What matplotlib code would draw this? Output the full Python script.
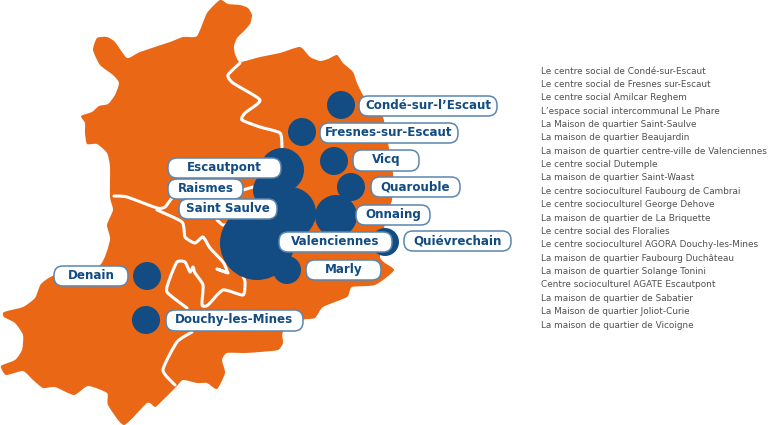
#!/usr/bin/env python

import matplotlib
matplotlib.use('Agg')
import matplotlib.pyplot as plt
from matplotlib.patches import Circle, FancyBboxPatch, PathPatch
from matplotlib.path import Path

ORANGE = '#ea6715'
BLUE = '#124c82'
EDGE = '#5a86b0'
GREY = '#505050'

# Territory outline, in picture pixels
outline_x = [220, 228, 240, 248, 252, 250, 243, 237, 234, 235, 240, 260, 280, 300, 310, 320, 328, 337,
             343, 353, 357, 363, 373, 383, 388, 393, 392, 387, 380, 394, 375, 352, 347, 323, 315, 302,
             283, 283, 278, 260, 245, 227, 222, 225, 217, 207, 197, 183, 176, 160, 155, 147, 124, 108,
             107, 88, 74, 55, 43, 33, 23, 6, 1, 15, 22, 23, 15, 4, 4, 23, 35, 41, 55, 99, 110, 107, 113,
             110, 110, 107, 97, 87, 85, 85, 81, 92, 99, 108, 115, 119, 113, 100, 93, 97, 107, 115, 127,
             140, 170, 183, 197, 207]
outline_y = [0, 4, 5, 8, 15, 24, 32, 38, 46, 54, 62, 57, 53, 47, 57, 61, 59, 55,
             63, 72, 83, 95, 105, 117, 143, 173, 200, 213, 257, 270, 285, 287, 297, 307, 318, 320,
             332, 343, 350, 352, 353, 353, 360, 373, 389, 383, 383, 380, 387, 403, 407, 403, 425, 405,
             393, 386, 395, 387, 388, 380, 371, 375, 366, 360, 350, 335, 323, 317, 312, 307, 298, 284,
             275, 266, 240, 225, 210, 197, 167, 153, 144, 144, 133, 123, 116, 112, 106, 104, 95, 83,
             75, 65, 50, 38, 37, 42, 58, 52, 42, 37, 36, 13]

# White commune borders
border_north_x = [240, 228, 233, 260, 245, 242, 260, 280, 282]
border_north_y = [63, 75, 83, 100, 113, 120, 127, 133, 147]
border_west_x = [114, 127, 157, 165, 172, 180]
border_west_y = [196, 197, 208, 207, 198, 192]
border_raismes_x = [243, 253]
border_raismes_y = [190, 187]
border_centre_x = [157, 182, 185, 195, 203, 210, 223, 227, 217, 228]
border_centre_y = [210, 222, 237, 243, 237, 248, 262, 272, 269, 273]
border_notch_x = [217, 223, 230]
border_notch_y = [220, 225, 224]
border_loop_x = [187, 167, 170, 177, 185, 190, 193, 195, 203, 202, 208, 223, 243, 245, 242]
border_loop_y = [308, 292, 278, 262, 262, 272, 267, 273, 285, 305, 305, 290, 295, 282, 273]
border_south_x = [192, 177, 163, 175]
border_south_y = [332, 342, 370, 385]

# Bubbles
bubble_x = [341, 302, 334, 351, 282, 272, 290, 336, 385, 287, 257, 147, 146]
bubble_y = [105, 132, 161, 187, 170, 190, 213, 216, 242, 270, 243, 276, 320]
bubble_r = [14, 14, 14, 14, 22, 19, 26, 21, 14, 14, 37, 14, 14]

# Town labels
towns = ['Condé-sur-l’Escaut', 'Fresnes-sur-Escaut', 'Vicq', 'Quarouble', 'Onnaing', 'Quiévrechain',
         'Valenciennes', 'Marly', 'Douchy-les-Mines', 'Denain', 'Escautpont', 'Raismes', 'Saint Saulve']
town_x0 = [359, 320, 353, 371, 356, 404, 279, 306, 166, 54, 168, 168, 179]
town_x1 = [497, 458, 419, 460, 430, 511, 392, 381, 303, 128, 281, 243, 277]
town_y0 = [96, 123, 150, 177, 205, 231, 232, 260, 310, 266, 158, 179, 199]
town_y1 = [116, 143, 171, 197, 225, 251, 252, 280, 331, 286, 178, 199, 219]

centres = [
    'Le centre social de Condé-sur-Escaut',
    'Le centre social de Fresnes sur-Escaut',
    'Le centre social Amilcar Reghem',
    'L’espace social intercommunal Le Phare',
    'La Maison de quartier Saint-Saulve',
    'La maison de quartier Beaujardin',
    'La maison de quartier centre-ville de Valenciennes',
    'Le centre social Dutemple',
    'La maison de quartier Saint-Waast',
    'Le centre socioculturel Faubourg de Cambrai',
    'Le centre socioculturel George Dehove',
    'La maison de quartier de La Briquette',
    'Le centre social des Floralies',
    'Le centre socioculturel AGORA Douchy-les-Mines',
    'La maison de quartier Faubourg Duchâteau',
    'La maison de quartier Solange Tonini',
    'Centre socioculturel AGATE Escautpont',
    'La maison de quartier de Sabatier',
    'La Maison de quartier Joliot-Curie',
    'La maison de quartier de Vicoigne',
]


def smooth_path(xs, ys, closed=False, tension=0.1):
    # Bezier curve through the points, so the borders do not look like polylines
    pts = list(zip(xs, ys))
    n = len(pts)
    verts = [pts[0]]
    codes = [Path.MOVETO]
    last = n if closed else n - 1
    for i in range(last):
        p0 = pts[(i - 1) % n] if closed or i > 0 else pts[i]
        p1 = pts[i]
        p2 = pts[(i + 1) % n]
        p3 = pts[(i + 2) % n] if closed or i + 2 < n else p2
        c1 = (p1[0] + (p2[0] - p0[0]) * tension, p1[1] + (p2[1] - p0[1]) * tension)
        c2 = (p2[0] - (p3[0] - p1[0]) * tension, p2[1] - (p3[1] - p1[1]) * tension)
        verts += [c1, c2, p2]
        codes += [Path.CURVE4] * 3
    return Path(verts, codes)


fig = plt.figure(figsize=(7.68, 4.25), dpi=100)
ax = fig.add_axes([0, 0, 1, 1])
ax.set_xlim(0, 768)
ax.set_ylim(425, 0)
ax.axis('off')

# Map
ax.add_patch(PathPatch(smooth_path(outline_x, outline_y, closed=True), facecolor=ORANGE,
                       edgecolor='none', zorder=1))

borders = [(border_north_x, border_north_y), (border_west_x, border_west_y),
           (border_raismes_x, border_raismes_y), (border_centre_x, border_centre_y),
           (border_notch_x, border_notch_y), (border_loop_x, border_loop_y),
           (border_south_x, border_south_y)]
for bx, by in borders:
    ax.add_patch(PathPatch(smooth_path(bx, by), facecolor='none', edgecolor='white', linewidth=2.2,
                           capstyle='round', joinstyle='round', zorder=2))

# Bubbles
for x, y, r in zip(bubble_x, bubble_y, bubble_r):
    ax.add_patch(Circle((x, y), r, facecolor=BLUE, edgecolor='none', zorder=3))

# Labels
for name, x0, x1, y0, y1 in zip(towns, town_x0, town_x1, town_y0, town_y1):
    pad = 9
    ax.add_patch(FancyBboxPatch((x0 + pad, y0 + pad), x1 - x0 - 2 * pad, y1 - y0 - 2 * pad,
                                boxstyle='round,pad=%d,rounding_size=%d' % (pad, pad),
                                facecolor='white', edgecolor=EDGE, linewidth=1.1, zorder=4))
    ax.text((x0 + x1) / 2, (y0 + y1) / 2 - 0.5, name, color=BLUE, fontsize=8.6, fontweight='bold',
            family='DejaVu Sans', ha='center', va='center', zorder=5)

# Centre list
for i, name in enumerate(centres):
    ax.text(541, 71 + i * 13.37, name, color=GREY, fontsize=6.4,
            family='DejaVu Sans', ha='left', va='center')

plt.savefig('out.png', dpi=100)
plt.close()
